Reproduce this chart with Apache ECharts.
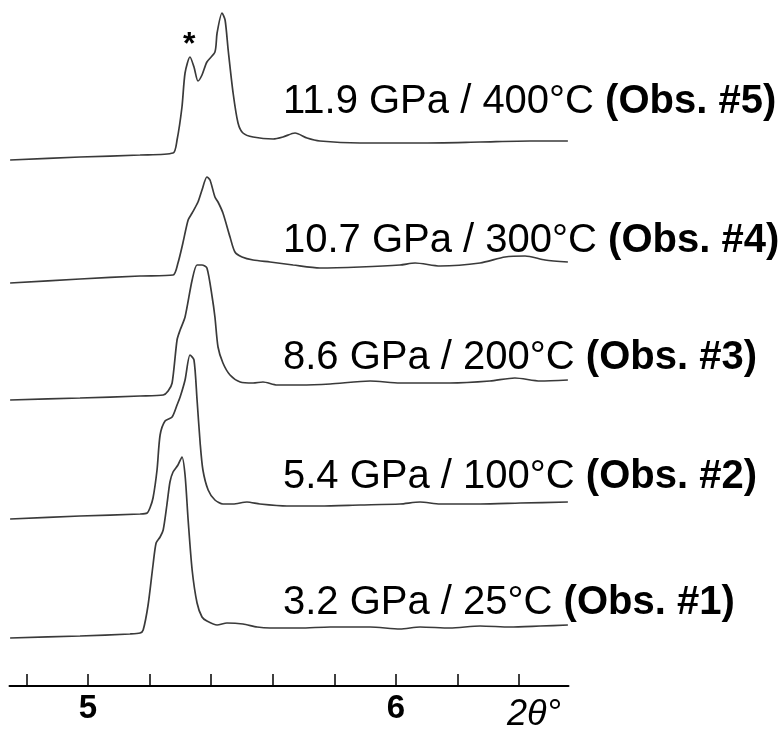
<!DOCTYPE html>
<html>
<head>
<meta charset="utf-8">
<script src="https://cdn.jsdelivr.net/npm/echarts@6/dist/echarts.min.js"></script>
<style>
  html, body { margin: 0; padding: 0; background: #fff; }
  #chart { width: 781px; height: 737px; }
</style>
</head>
<body>
<div id="chart"></div>
<script>
// 2θ (degrees) / intensity (arbitrary, stacked with offsets)
const obs1 = [
  [4.747, 48], [4.974, 50], [5.136, 52], [5.169, 53], [5.179, 56], [5.195, 81],
  [5.211, 121], [5.221, 143], [5.234, 149], [5.244, 156], [5.256, 181], [5.266, 204],
  [5.276, 214], [5.292, 221], [5.305, 229], [5.315, 211], [5.325, 166], [5.338, 116],
  [5.354, 83], [5.370, 69], [5.386, 65], [5.419, 61], [5.451, 63], [5.503, 62],
  [5.549, 59], [5.591, 58], [5.688, 58], [5.786, 59], [5.916, 59], [6.013, 57],
  [6.078, 59], [6.175, 58], [6.273, 60], [6.370, 59], [6.468, 60], [6.558, 61]
];
const obs2 = [
  [4.747, 167], [4.974, 170], [5.169, 172], [5.192, 173], [5.201, 178], [5.211, 188],
  [5.224, 216], [5.234, 251], [5.250, 265], [5.273, 269], [5.289, 281], [5.299, 289],
  [5.315, 306], [5.331, 331], [5.344, 326], [5.354, 286], [5.364, 243], [5.373, 216],
  [5.390, 196], [5.412, 186], [5.438, 182], [5.471, 182], [5.516, 184], [5.558, 182],
  [5.646, 180], [5.753, 180], [5.883, 181], [6.013, 182], [6.078, 184], [6.143, 182],
  [6.273, 182], [6.403, 183], [6.558, 184]
];
const obs3 = [
  [4.747, 286], [4.974, 288], [5.169, 290], [5.244, 291], [5.260, 295], [5.273, 303],
  [5.289, 346], [5.299, 356], [5.315, 369], [5.338, 406], [5.354, 421], [5.370, 421],
  [5.386, 418], [5.403, 389], [5.412, 369], [5.422, 339], [5.438, 323], [5.461, 311],
  [5.494, 304], [5.536, 303], [5.568, 304], [5.614, 301], [5.688, 301], [5.786, 302],
  [5.916, 305], [6.013, 303], [6.175, 303], [6.305, 305], [6.386, 308], [6.468, 305],
  [6.558, 306]
];
const obs4 = [
  [4.747, 403], [4.974, 407], [5.169, 410], [5.276, 411], [5.292, 423], [5.308, 443],
  [5.325, 466], [5.338, 473], [5.357, 484], [5.370, 496], [5.386, 509], [5.396, 506],
  [5.412, 489], [5.422, 484], [5.438, 473], [5.461, 449], [5.477, 434], [5.500, 429],
  [5.536, 426], [5.591, 424], [5.666, 421], [5.753, 418], [5.883, 419], [6.013, 421],
  [6.062, 423], [6.143, 420], [6.273, 423], [6.354, 429], [6.419, 430], [6.484, 426],
  [6.558, 424]
];
const obs5 = [
  [4.747, 526], [4.974, 529], [5.169, 531], [5.276, 533], [5.289, 546], [5.305, 579],
  [5.315, 613], [5.331, 629], [5.344, 619], [5.357, 605], [5.370, 611], [5.386, 624],
  [5.412, 634], [5.419, 653], [5.435, 673], [5.445, 666], [5.455, 636], [5.471, 593],
  [5.487, 563], [5.503, 553], [5.536, 549], [5.601, 547], [5.633, 549], [5.672, 553],
  [5.711, 548], [5.753, 545], [5.883, 543], [6.078, 543], [6.273, 544], [6.435, 545],
  [6.558, 545]
];

const seriesData = [obs1, obs2, obs3, obs4, obs5];
const seriesNames = ['Obs. #1', 'Obs. #2', 'Obs. #3', 'Obs. #4', 'Obs. #5'];
const conditions = ['3.2 GPa / 25°C', '5.4 GPa / 100°C', '8.6 GPa / 200°C', '10.7 GPa / 300°C', '11.9 GPa / 400°C'];
const labelTicks = [5, 6];
const minorTicks = [4.8, 5.0, 5.2, 5.4, 5.6, 5.8, 6.0, 6.2, 6.4];

const labelTops = [603, 477, 358, 241, 102];

const chart = echarts.init(document.getElementById('chart'));

chart.setOption({
  animation: false,
  backgroundColor: '#fff',
  grid: { left: 9.5, right: 212.5, top: 0, bottom: 51 },
  xAxis: {
    type: 'value',
    min: 4.745,
    max: 6.56,
    axisLine: { lineStyle: { color: '#000', width: 2 } },
    axisTick: {
      show: true,
      inside: true,
      length: 12,
      customValues: minorTicks,
      lineStyle: { color: '#000', width: 1.5 }
    },
    axisLabel: {
      customValues: labelTicks,
      margin: 6,
      color: '#000',
      fontFamily: 'Liberation Sans',
      fontWeight: 'bold',
      fontSize: 33
    },
    splitLine: { show: false }
  },
  yAxis: {
    type: 'value',
    min: 0,
    max: 686,
    show: false
  },
  series: seriesData.map((d, i) => ({
    name: seriesNames[i],
    type: 'line',
    data: d,
    showSymbol: false,
    smooth: 0.25,
    lineStyle: { color: '#3a3a3a', width: 1.7 }
  })),
  graphic: [
    ...conditions.map((c, i) => ({
      type: 'text',
      left: 283,
      top: labelTops[i] - 20,
      style: {
        text: '{r|' + c + ' }{b|(' + seriesNames[i] + ')}',
        rich: {
          r: { fontFamily: 'Liberation Sans', fontSize: 40, fill: '#000' },
          b: { fontFamily: 'Liberation Sans', fontSize: 40, fontWeight: 'bold', fill: '#000' }
        }
      }
    })),
    {
      type: 'text',
      left: 183,
      top: 29,
      style: { text: '*', fontFamily: 'Liberation Sans', fontWeight: 'bold', fontSize: 32, fill: '#000' }
    },
    {
      type: 'text',
      left: 507,
      top: 697,
      style: { text: '2θ°', fontFamily: 'Liberation Sans', fontStyle: 'italic', fontSize: 36, fill: '#000' }
    }
  ]
});
</script>
</body>
</html>
